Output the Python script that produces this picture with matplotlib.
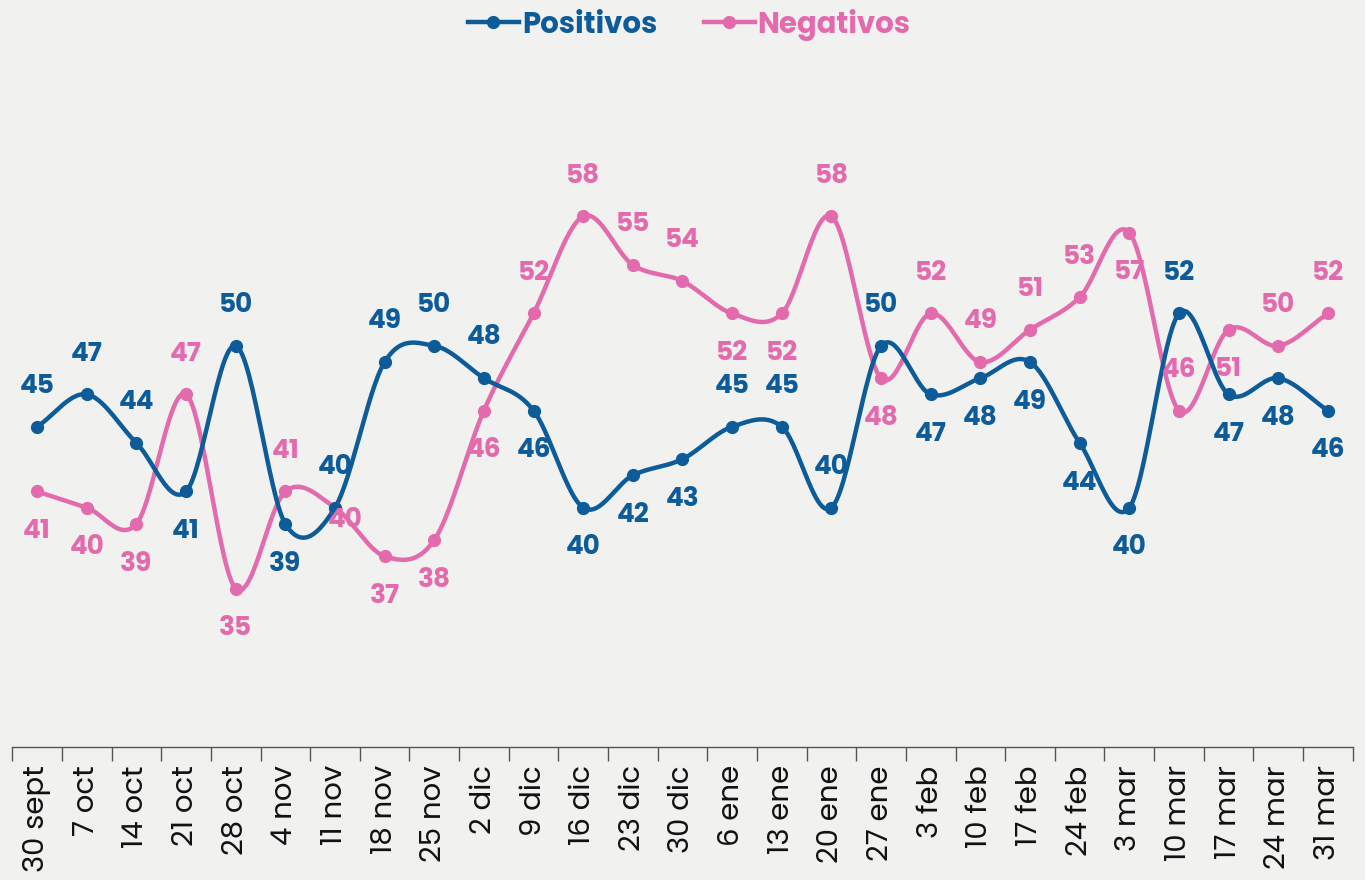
import numpy as np
import matplotlib
matplotlib.use('Agg')
import matplotlib.pyplot as plt
from matplotlib.lines import Line2D

fechas = ['30 sept', '7 oct', '14 oct', '21 oct', '28 oct', '4 nov', '11 nov', '18 nov',
          '25 nov', '2 dic', '9 dic', '16 dic', '23 dic', '30 dic', '6 ene', '13 ene',
          '20 ene', '27 ene', '3 feb', '10 feb', '17 feb', '24 feb', '3 mar', '10 mar',
          '17 mar', '24 mar', '31 mar']
positivos = [45, 47, 44, 41, 50, 39, 40, 49, 50, 48, 46, 40, 42, 43, 45, 45, 40, 50,
             47, 48, 49, 44, 40, 52, 47, 48, 46]
negativos = [41, 40, 39, 47, 35, 41, 40, 37, 38, 46, 52, 58, 55, 54, 52, 52, 58, 48,
             52, 49, 51, 53, 57, 46, 51, 50, 52]

# where the value labels sit: a = above, b = below, r = nudged right/down
lado_pos = list('aaababaaaabbbbaaaabbbbbabbb')
lado_neg = list('bbbabarbbbaaaabbabaaaababaa')

azul = '#0d5c99'
rosa = '#e46aae'
fondo = '#f1f1ef'

plt.rcParams['font.family'] = ['Poppins', 'Open Sans', 'DejaVu Sans']


def spline(y, n=30):
    # catmull-rom style smoothing, like the web chart's "spline" series
    y = np.asarray(y, dtype=float)
    x = np.arange(len(y), dtype=float)
    m = np.zeros_like(y)
    m[1:-1] = (y[2:] - y[:-2]) / 2
    m[0] = y[1] - y[0]
    m[-1] = y[-1] - y[-2]
    xs, ys = [], []
    t = np.linspace(0, 1, n, endpoint=False)
    h00 = 2 * t**3 - 3 * t**2 + 1
    h10 = t**3 - 2 * t**2 + t
    h01 = -2 * t**3 + 3 * t**2
    h11 = t**3 - t**2
    for i in range(len(y) - 1):
        xs.append(x[i] + t)
        ys.append(h00 * y[i] + h10 * m[i] + h01 * y[i + 1] + h11 * m[i + 1])
    xs.append([x[-1]])
    ys.append([y[-1]])
    return np.concatenate(xs), np.concatenate(ys)


fig = plt.figure(figsize=(13.65, 8.8), dpi=100, facecolor=fondo)
ax = fig.add_axes([0.009, 0.151, 0.982, 0.798])
ax.set_facecolor(fondo)

x = np.arange(len(fechas))
for vals, color, lados in [(negativos, rosa, lado_neg), (positivos, azul, lado_pos)]:
    sx, sy = spline(vals)
    ax.plot(sx, sy, color=color, lw=3.2, solid_capstyle='round', zorder=3)
    ax.plot(x, vals, 'o', color=color, ms=8.5, zorder=4)
    for xi, v, l in zip(x, vals, lados):
        if l == 'a':
            off = (0, 29)
        elif l == 'b':
            off = (0, -29)
        else:
            off = (7, -9)
        ax.annotate(str(v), (xi, v), xytext=off, textcoords='offset points',
                    ha='center', va='center', fontsize=19, fontweight='bold',
                    color=color, zorder=5)

ax.set_xlim(-0.5, len(fechas) - 0.5)
ax.set_ylim(25.2, 68.6)
ax.set_yticks([])
for s in ['top', 'right', 'left']:
    ax.spines[s].set_visible(False)
ax.spines['bottom'].set_color('#555555')
ax.spines['bottom'].set_linewidth(1)

ax.set_xticks(x)
ax.set_xticklabels(fechas, rotation=90, fontsize=21, color='#111111')
ax.tick_params(axis='x', which='major', length=0, pad=13)
ax.set_xticks(np.arange(-0.5, len(fechas)), minor=True)
ax.tick_params(axis='x', which='minor', length=10, color='#555555', width=1)

handles = [Line2D([0], [0], color=azul, lw=3.2, marker='o', ms=8.5),
           Line2D([0], [0], color=rosa, lw=3.2, marker='o', ms=8.5)]
leg = fig.legend(handles, ['Positivos', 'Negativos'], loc='upper center',
                 bbox_to_anchor=(0.505, 1.02), ncol=2, frameon=False,
                 prop={'weight': 'bold', 'size': 21}, handlelength=1.75,
                 handletextpad=0.1, columnspacing=1.6)
for txt, c in zip(leg.get_texts(), [azul, rosa]):
    txt.set_color(c)

fig.savefig('out.png', dpi=100, facecolor=fondo)
